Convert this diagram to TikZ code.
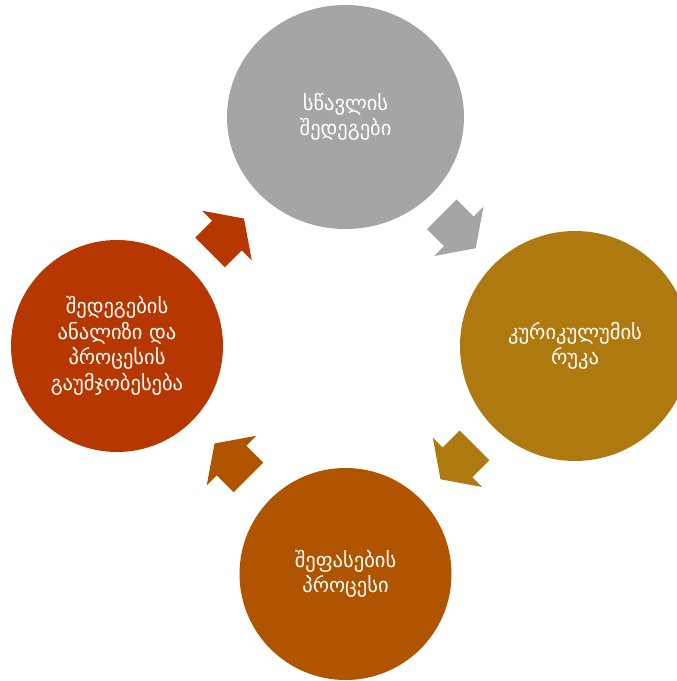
\documentclass[tikz,border=0pt]{standalone}
\usepackage{fontspec}
\newfontfamily\geofont{DejaVu Sans}
\usetikzlibrary{shapes.geometric,positioning}
\definecolor{outcomegray}{HTML}{A5A5A5}
\definecolor{mapgold}{HTML}{AE790F}
\definecolor{assessorange}{HTML}{B05400}
\definecolor{analysisred}{HTML}{B63700}

\tikzset{
  cyclearrow/.pic={\fill (-24,-21) -- (0,-21) -- (0,-35) -- (24,0) -- (0,35) -- (0,21) -- (-24,21) -- cycle;}
}

\begin{document}
\begin{tikzpicture}[x=1pt, y=-1pt,
    every node/.style={text=white, inner sep=0pt, align=center, font=\geofont\fontsize{20.5}{25.5}\selectfont},
    stage/.style={circle, minimum size=212pt},
    bigstage/.style={circle, minimum size=230pt}]
  \useasboundingbox (0,0) rectangle (677,681);
  \clip (0,0) rectangle (677,681);

  \node[ellipse, minimum width=237pt, minimum height=224pt, fill=outcomegray] (outcomes) at (345.5,117) {სწავლის\\შედეგები};
  \node[bigstage, fill=mapgold] (map) at (575,346) {კურიკულუმის\\რუკა};
  \node[stage, fill=assessorange] (assess) at (345.5,574) {შეფასების\\პროცესი};
  \node[stage, fill=analysisred] (analysis) at (117,346) {შედეგების\\ანალიზი და\\პროცესის\\გაუმჯობესება};

  \pic[fill=outcomegray, rotate=-45] at (458.75,231.25) {cyclearrow};
  \pic[fill=mapgold, rotate=-135] at (457.5,462.3) {cyclearrow};
  \pic[fill=assessorange, rotate=135] at (231.5,460.5) {cyclearrow};
  \pic[fill=analysisred, rotate=45] at (227,235.5) {cyclearrow};
\end{tikzpicture}
\end{document}
